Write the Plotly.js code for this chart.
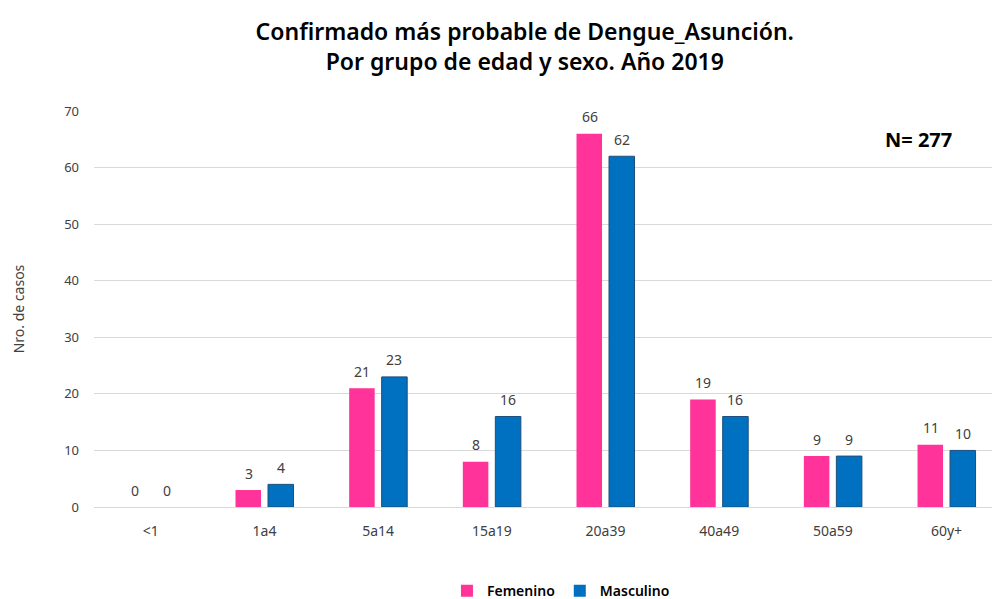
<!DOCTYPE html>
<html>
<head>
<meta charset="utf-8">
<script src="https://cdn.plot.ly/plotly-3.0.1.min.js"></script>
<style>body{margin:0;background:#fff;} #chart{width:992px;height:599px;}</style>
</head>
<body>
<div id="chart"></div>
<script>
const categories = ["<1", "1a4", "5a14", "15a19", "20a39", "40a49", "50a59", "60y+"];
const femenino = [0, 3, 21, 8, 66, 19, 9, 11];
const masculino = [0, 4, 23, 16, 62, 16, 9, 10];
const seriesNames = ["Femenino", "Masculino"];
const yTicks = [0, 10, 20, 30, 40, 50, 60, 70];

const FONT = "Noto Sans, Open Sans, sans-serif";
const txtColor = "#404040";

const traces = [
  {
    type: "bar", name: seriesNames[0], x: categories, y: femenino,
    marker: {color: "#FF3399", line: {color: "#FF3399", width: 0}}
  },
  {
    type: "bar", name: seriesNames[1], x: categories, y: masculino,
    marker: {color: "#0070C0", line: {color: "#1F4E79", width: masculino.map(v => v > 0 ? 1 : 0)}}
  }
];

// data labels placed over each bar (grouped offsets)
const labelAnn = [];
[femenino, masculino].forEach((vals, si) => {
  vals.forEach((v, i) => {
    labelAnn.push({
      x: categories[i], y: v, xref: "x", yref: "y",
      xshift: si === 0 ? -16 : 16, yshift: 17,
      text: String(v), showarrow: false, yanchor: "middle", xanchor: "center",
      font: {family: FONT, size: 14, color: txtColor}
    });
  });
});

const layout = {
  width: 992, height: 599,
  margin: {l: 94, r: 0, t: 111, b: 92},
  paper_bgcolor: "#fff", plot_bgcolor: "#fff",
  font: {family: FONT, color: txtColor, size: 13},
  title: {
    text: "Confirmado más probable de Dengue_Asunción.<br>Por grupo de edad y sexo. Año 2019",
    font: {family: FONT, size: 23, color: "#000", weight: 600},
    x: 0.529, xanchor: "center", yref: "container", y: 0.933, yanchor: "middle"
  },
  barmode: "group", bargap: 0.428, bargroupgap: 0.215,
  xaxis: {
    type: "category", range: [-0.5, 7.4],
    showgrid: false, zeroline: false, showline: false,
    ticks: "", tickfont: {family: FONT, size: 14, color: txtColor},
    ticklabelstandoff: 14
  },
  yaxis: {
    range: [0, 70], tickvals: yTicks, ticktext: yTicks.map(String),
    showgrid: true, gridcolor: "#D9D9D9", gridwidth: 1,
    zeroline: true, zerolinecolor: "#D9D9D9", zerolinewidth: 1,
    showline: false, ticks: "", ticklabelstandoff: 14,
    tickfont: {family: FONT, size: 13, color: txtColor},
    title: {text: "Nro. de casos", font: {family: FONT, size: 14, color: txtColor}, standoff: 36}
  },
  showlegend: true,
  legend: {
    orientation: "h", x: 0.52, xanchor: "center", yref: "container", y: 0.013, yanchor: "middle",
    font: {family: FONT, size: 14, color: "#000", weight: 600},
    itemwidth: 30, traceorder: "normal"
  },
  annotations: labelAnn.concat([
    {text: "N= 277", xref: "paper", yref: "paper", x: 0.918, y: 0.928, xanchor: "center", yanchor: "middle",
     showarrow: false, font: {family: FONT, size: 20, color: "#000", weight: 700}}
  ])
};

Plotly.newPlot("chart", traces, layout, {displayModeBar: false, staticPlot: true});
</script>
</body>
</html>
